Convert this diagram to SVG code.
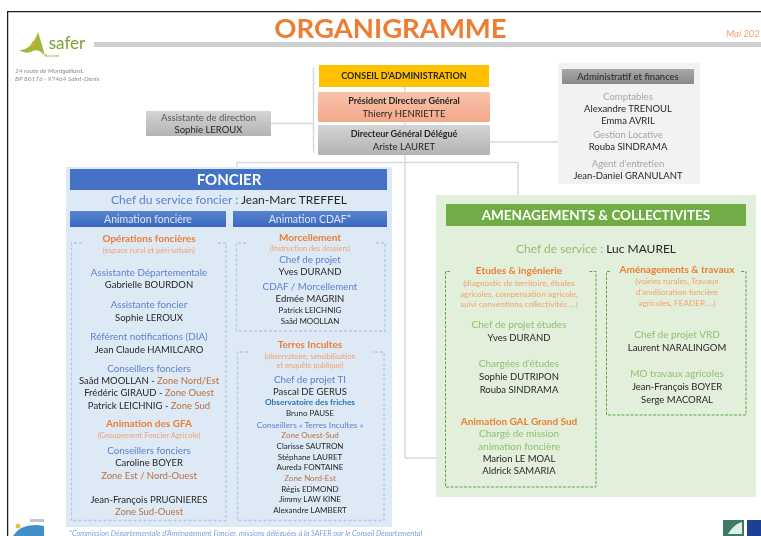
<svg xmlns="http://www.w3.org/2000/svg" width="761" height="536" viewBox="0 0 761 536">
<style>
text{font-family:"Lato","Liberation Sans",sans-serif;text-anchor:middle;font-size:9.5px;fill:#262626}
.b{fill:#5b82cc;font-size:9.8px}.o{fill:#ed7d31;font-weight:700;font-size:10px}.so{fill:#f4a06c;font-size:7.400px}
.sg{fill:#f4a06c;font-size:8.200px}
.g{fill:#8fc06f;font-size:10px}.z{fill:#b8703f}.s{font-size:8px}.gy{fill:#a6a6a6}.bd{font-weight:700}
.w{fill:#fff;font-weight:700}.sh{fill:#dbe5f6;font-size:10.5px}
.ad{font-size:6.500px;font-style:italic;fill:#8c8c8c;text-anchor:start}
.line{fill:none;stroke:#d9d9d9;stroke-width:1.5}
.db{fill:none;stroke:#b4c7e7;stroke-width:1.3;stroke-dasharray:3 2}
.dg{fill:none;stroke:#5aa845;stroke-width:1;stroke-dasharray:3 1.5}
</style>
<defs>
<linearGradient id="gr" x1="0" y1="0" x2="0" y2="1"><stop offset="0" stop-color="#d4d4d4"/><stop offset="1" stop-color="#b3b3b3"/></linearGradient>
<linearGradient id="gd" x1="0" y1="0" x2="0" y2="1"><stop offset="0" stop-color="#a8a8a8"/><stop offset="1" stop-color="#8a8a8a"/></linearGradient>
<linearGradient id="sa" x1="0" y1="0" x2="0" y2="1"><stop offset="0" stop-color="#f8c3aa"/><stop offset="1" stop-color="#f4a888"/></linearGradient>
<linearGradient id="bl" x1="0" y1="0" x2="0" y2="1"><stop offset="0" stop-color="#5a84cf"/><stop offset="1" stop-color="#3a68c0"/></linearGradient>
<filter id="soft" x="0" y="0" width="100%" height="100%"><feGaussianBlur stdDeviation="0.4"/></filter>
</defs>
<rect width="761" height="536" fill="#fff"/>
<g filter="url(#soft)">
<g id="frame"><path d="M761 11.500H7.500V536" fill="none" stroke="#1a1a1a" stroke-width="1.500"/>
<rect x="94" y="42" width="667" height="5" fill="#d0d0d0"/></g>
<g id="header">
<text x="390.500" y="38" style="font-size:27.500px;font-weight:700;fill:#ed7d31">ORGANIGRAMME</text>
<text x="726" y="37" style="font-size:9.500px;font-style:italic;fill:#f0a070;text-anchor:start">Mai 202</text>
<path d="M19 50Q32 50 38 32Q42 44 45 56Q38 47 31 52Q25 54 19 50Z" fill="#9dbb3a"/><path d="M30 46L33 41L37 46Z" fill="#ed9b33"/>
<text x="67" y="49" style="font-size:17px;fill:#7f9f35">safer</text>
<text x="52" y="56.500" style="font-size:4px;fill:#8aa83a">Réunion</text>
<text x="15" y="72.500" class="ad">24 route de Montgaillard,</text>
<text x="15" y="80.500" class="ad">BP 80176 - 97464 Saint-Denis</text>
</g>
<g id="connectors">
<path class="line" d="M313.500 68V153M271 123.500H313M405 87V458M405 458H436M490 142H558M237 168V162.500H518V196"/>
</g>
<g id="conseil"><rect x="319" y="65" width="170" height="22" fill="#ffc000"/><text x="404" y="79" class="bd" style="font-size:9px">CONSEIL D’ADMINISTRATION</text></g>
<g id="president"><rect x="318" y="92" width="172" height="30" rx="1" fill="url(#sa)"/><text x="404" y="104" class="bd" style="font-size:9px">Président Directeur Général</text><text x="404" y="117">Thierry HENRIETTE</text></g>
<g id="directeur"><rect x="318" y="125" width="172" height="30" rx="1" fill="url(#gr)"/><text x="404" y="137" class="bd" style="font-size:9px">Directeur Général Délégué</text><text x="404" y="150">Ariste LAURET</text></g>
<g id="assistante"><rect x="146" y="111" width="125" height="25" fill="url(#gr)"/><text x="208.500" y="121" style="fill:#595959">Assistante de direction</text><text x="208.500" y="133">Sophie  LEROUX</text></g>
<g id="admin"><rect x="558" y="63" width="142" height="121" fill="#f2f2f2"/><rect x="562" y="69" width="132" height="15" fill="url(#gd)"/>
<text x="628" y="80">Administratif  et finances</text>
<text x="628" y="100" class="gy">Comptables</text><text x="628" y="112">Alexandre TRENOUL</text><text x="628" y="124">Emma AVRIL</text>
<text x="628" y="138" class="gy">Gestion Locative</text><text x="628" y="150">Rouba SINDRAMA</text>
<text x="628" y="167" class="gy">Agent d’entretien</text><text x="628" y="179">Jean-Daniel GRANULANT</text></g>
<g id="foncier"><rect x="66" y="167" width="326" height="360" fill="#dee9f6"/><rect x="70" y="169" width="317" height="21" fill="#4472c4"/>
<text x="229" y="185" class="w" style="font-size:15px">FONCIER</text>
<text x="229" y="204" style="font-size:12px;fill:#262626"><tspan style="fill:#5b82cc">Chef du service  foncier  :</tspan> Jean-Marc  TREFFEL</text>
<rect x="70" y="211" width="156" height="16" fill="url(#bl)"/><rect x="233" y="211" width="154" height="16" fill="url(#bl)"/>
<text x="148" y="222.500" class="sh">Animation foncière</text><text x="310" y="222.500" class="sh">Animation CDAF*</text>
<path class="db" d="M82 243H71.500V520.500H226V243H216M246 243H236.500V331H385V243H374M248 352H237.500V520.500H384V352H372"/>
<text x="149" y="242" class="o">Opérations foncières</text><text x="149" y="252.500" class="so" style="font-size:7.700px">(espace rural et péri-urbain)</text>
<text x="149" y="275.500" class="b">Assistante Départementale</text><text x="149" y="288">Gabrielle BOURDON</text>
<text x="149" y="308" class="b">Assistante foncier</text><text x="149" y="320.500">Sophie LEROUX</text>
<text x="149" y="340" class="b">Référent notifications (DIA)</text><text x="149" y="352.500">Jean Claude HAMILCARO</text>
<text x="149" y="371.500" class="b">Conseillers fonciers</text>
<text x="149" y="383.500">Saâd MOOLLAN - <tspan class="z">Zone Nord/Est</tspan></text>
<text x="149" y="396">Frédéric GIRAUD - <tspan class="z">Zone Ouest</tspan></text>
<text x="149" y="408.500">Patrick LEICHNIG - <tspan class="z">Zone Sud</tspan></text>
<text x="149" y="427" class="o">Animation des GFA</text><text x="149" y="438" class="so" style="font-size:7.700px">(Groupement  Foncier Agricole)</text>
<text x="149" y="453.500" class="b">Conseillers fonciers</text><text x="149" y="466">Caroline BOYER</text><text x="149" y="478.500" class="z">Zone Est / Nord-Ouest</text>
<text x="149" y="502.500">Jean-François PRUGNIERES</text><text x="149" y="514.500" class="z">Zone Sud-Ouest</text>
<text x="310" y="241" class="o">Morcellement</text><text x="310" y="251" class="so">(Instruction des dossiers)</text>
<text x="310" y="262.500" class="b">Chef de projet</text><text x="310" y="275">Yves DURAND</text>
<text x="310" y="289.500" class="b">CDAF / Morcellement</text><text x="310" y="301.500">Edmée MAGRIN</text>
<text x="310" y="313" class="s">Patrick LEICHNIG</text><text x="310" y="324" class="s">Saâd MOOLLAN</text>
<text x="310" y="348" class="o">Terres Incultes</text><text x="310" y="358.500" class="so">(observatoire, sensibilisation</text><text x="310" y="368" class="so">et enquête  publique)</text>
<text x="310" y="382.500" class="b">Chef de projet TI</text><text x="310" y="394.500">Pascal DE GERUS</text>
<text x="310" y="405" class="bd" style="fill:#2e75b6;font-size:8.300px">Observatoire des friches</text><text x="310" y="416" class="s">Bruno PAUSE</text>
<text x="310" y="428" style="fill:#5b82cc;font-size:8.400px">Conseillers « Terres Incultes »</text>
<text x="310" y="438" class="s z">Zone Ouest-Sud</text><text x="310" y="449" class="s">Clarisse SAUTRON</text><text x="310" y="459.500" class="s">Stéphane LAURET</text><text x="310" y="470" class="s">Aureda FONTAINE</text>
<text x="310" y="481" class="s z">Zone Nord-Est</text><text x="310" y="491.500" class="s">Régis EDMOND</text><text x="310" y="502" class="s">Jimmy LAW KINE</text><text x="310" y="512.500" class="s">Alexandre LAMBERT</text>
</g>
<g id="amenagements"><rect x="436" y="195" width="320" height="302" fill="#e2efda"/><rect x="446" y="204" width="300" height="22" fill="#70ad47"/>
<text x="596" y="220" class="w" style="font-size:13.500px">AMENAGEMENTS &amp; COLLECTIVITES</text>
<text x="596" y="253" style="font-size:12px"><tspan style="fill:#8fc06f">Chef de service  :</tspan> Luc MAUREL</text>
<path class="dg" d="M450 271.500H445.500V487H596V271.500H588M610 271.500H606.500V415H746V271.500H741"/>
<text x="519" y="274" class="o">Etudes &amp; ingénierie</text>
<text x="519" y="286" class="sg">(diagnostic de territoire, études</text><text x="519" y="297" class="sg">agricoles, compensation agricole,</text><text x="519" y="307" class="sg">suivi conventions collectivités …)</text>
<text x="519" y="328" class="g">Chef de projet études</text><text x="519" y="341">Yves DURAND</text>
<text x="519" y="367" class="g">Chargées d’études</text><text x="519" y="380">Sophie DUTRIPON</text><text x="519" y="393">Rouba SINDRAMA</text>
<text x="519" y="425" class="o">Animation GAL Grand Sud</text><text x="519" y="437" class="g">Chargé de mission</text><text x="519" y="449.500" class="g">animation foncière</text><text x="519" y="461.500">Marion LE MOAL</text><text x="519" y="474">Aldrick SAMARIA</text>
<text x="677" y="273" class="o">Aménagements &amp; travaux</text>
<text x="677" y="284" class="sg">(voiries rurales, Travaux</text><text x="677" y="295" class="sg">d’amélioration foncière</text><text x="677" y="306" class="sg">agricoles, FEADER …)</text>
<text x="677" y="338" class="g">Chef de projet VRD</text><text x="677" y="351">Laurent NARALINGOM</text>
<text x="677" y="377" class="g">MO travaux agricoles</text><text x="677" y="390">Jean-François BOYER</text><text x="677" y="403">Serge MACORAL</text></g>
<g id="footer">
<text x="69" y="536" style="font-size:7.400px;font-style:italic;fill:#7e9fdc;text-anchor:start">*Commission  Départementale  d’Aménagement  Foncier,  missions déléguées à la SAFER par le Conseil Départemental</text>
<path d="M13 536Q22 522 44 526V536Z" fill="#3f8fc9"/><circle cx="18" cy="526" r="2.500" fill="#e3c53a"/><rect x="30" y="519" width="14" height="3" fill="#b9c7dc"/>
<rect x="723" y="520" width="21" height="16" fill="#3c7a6b"/><path d="M728 534Q734 524 742 522V534Z" fill="#dff0e0"/><rect x="747" y="520" width="14" height="16" fill="#1d3f94"/>
</g>
</g>
</svg>
